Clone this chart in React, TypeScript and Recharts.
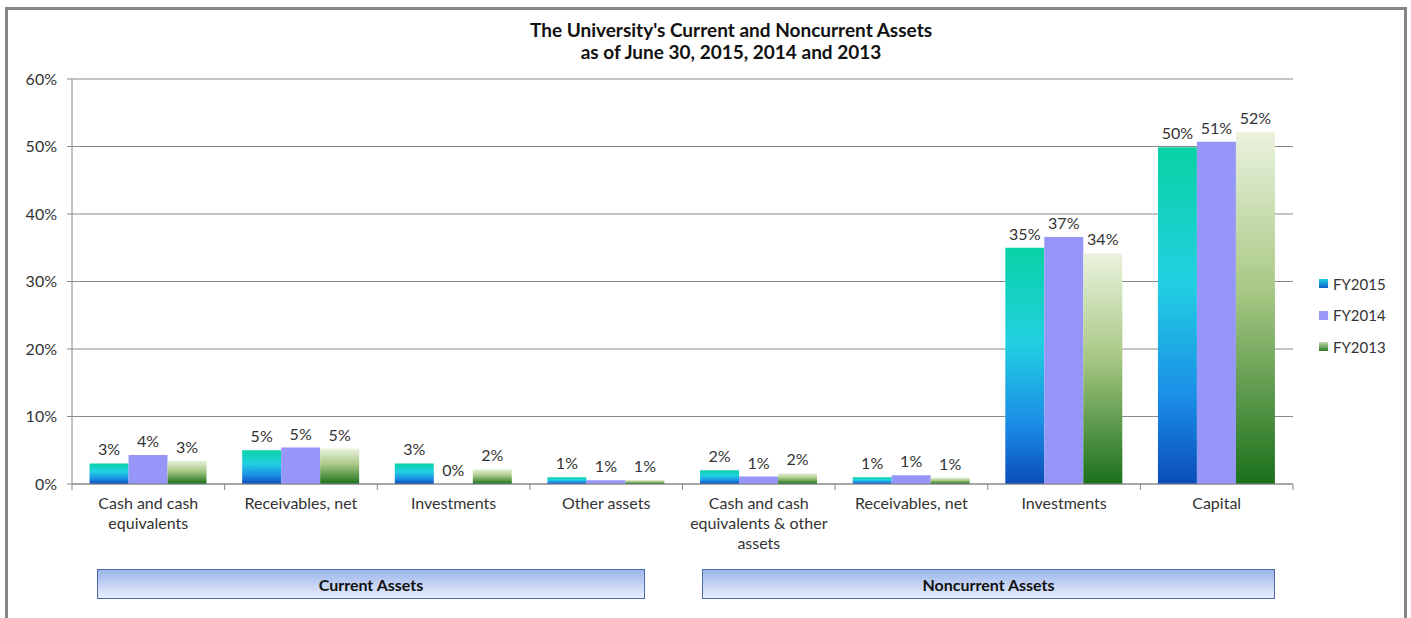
import React from 'react';
import { BarChart, Bar, XAxis, YAxis, CartesianGrid, LabelList } from 'recharts';

const CATEGORIES = [
    'Cash and cash\nequivalents',
    'Receivables, net',
    'Investments',
    'Other assets',
    'Cash and cash\nequivalents & other\nassets',
    'Receivables, net',
    'Investments',
    'Capital',
];
const FY2015 = [3.05, 5.0, 3.05, 1.0, 2.05, 1.0, 35.0, 49.9];
const FY2014 = [4.3, 5.4, 0.01, 0.55, 1.1, 1.3, 36.6, 50.7];
const FY2013 = [3.45, 5.25, 2.2, 0.6, 1.6, 0.95, 34.2, 52.1];
const Y_TICKS = [0, 10, 20, 30, 40, 50, 60];
const GROUPS = ['Current Assets', 'Noncurrent Assets'];

const FONT = 'Lato, "Open Sans", sans-serif';
const PLOT_LEFT = 72;
const PLOT_RIGHT = 1293;
const PLOT_TOP = 79;
const PLOT_BOTTOM = 484;
const BAND = (PLOT_RIGHT - PLOT_LEFT) / CATEGORIES.length;

const data = CATEGORIES.map((name, i) => ({
    name,
    fy2015: FY2015[i],
    fy2014: FY2014[i],
    fy2013: FY2013[i],
}));

const legendItems = [
    { label: 'FY2015', bg: 'linear-gradient(#20d0e0, #0a60c8)' },
    { label: 'FY2014', bg: '#9999f8' },
    { label: 'FY2013', bg: 'linear-gradient(#c8dcb0, #2a7a20)' },
];

// category text on several lines + tick marks between categories
const CategoryTick = (props: any) => {
    const { x, y, payload, index } = props;
    const lines = String(payload.value).split('\n');
    return (
        <g>
            <line x1={x - BAND / 2} x2={x - BAND / 2} y1={y} y2={y + 6} stroke="#888" />
            {index === CATEGORIES.length - 1 && (
                <line x1={x + BAND / 2} x2={x + BAND / 2} y1={y} y2={y + 6} stroke="#888" />
            )}
            <text x={x} y={y + 25} textAnchor="middle" fill="#333" fontSize={16} fontFamily={FONT}>
                {lines.map((l, i) => (
                    <tspan key={i} x={x} dy={i === 0 ? 0 : 20}>{l}</tspan>
                ))}
            </text>
        </g>
    );
};

const pct = (v: any) => `${Math.round(Number(v))}%`;

export default function App() {
    return (
        <div style={{ position: 'absolute', left: 0, top: 0, width: 1411, height: 618, background: '#fff', overflow: 'hidden' }}>
            {/* outer frame, runs off the bottom */}
            <div style={{ position: 'absolute', left: 5, top: 7, width: 1396, height: 700, border: '3px solid #858585' }} />

            <div style={{ position: 'absolute', left: 331, width: 800, top: 19, textAlign: 'center', fontFamily: FONT, fontWeight: 'bold', fontSize: 19, lineHeight: '22px', color: '#111' }}>
                The University's Current and Noncurrent Assets<br />as of June 30, 2015, 2014 and 2013
            </div>

            <div style={{ position: 'absolute', left: 0, top: 0 }}>
                <BarChart
                    width={1411}
                    height={618}
                    data={data}
                    margin={{ top: PLOT_TOP, right: 1411 - PLOT_RIGHT, bottom: 618 - PLOT_BOTTOM - 30, left: PLOT_LEFT - 60 }}
                    barCategoryGap="11.5%"
                    barGap={0}
                >
                    <defs>
                        <linearGradient id="g2015" x1="0" y1="0" x2="0" y2="1">
                            <stop offset="0" stopColor="#08d2a4" />
                            <stop offset="0.4" stopColor="#22d0e2" />
                            <stop offset="0.75" stopColor="#1a8ce6" />
                            <stop offset="1" stopColor="#0a4cb8" />
                        </linearGradient>
                        <linearGradient id="g2013" x1="0" y1="0" x2="0" y2="1">
                            <stop offset="0" stopColor="#eaf2de" />
                            <stop offset="0.45" stopColor="#a8c884" />
                            <stop offset="1" stopColor="#1a701a" />
                        </linearGradient>
                    </defs>
                    <CartesianGrid vertical={false} stroke="#8a8a8a" />
                    <XAxis
                        dataKey="name"
                        height={30}
                        stroke="#888"
                        tickLine={false}
                        tickSize={0}
                        tickMargin={0}
                        interval={0}
                        tick={<CategoryTick />}
                    />
                    <YAxis
                        width={60}
                        domain={[0, 60]}
                        ticks={Y_TICKS}
                        tickFormatter={(v) => `${v}%`}
                        stroke="#888"
                        tickSize={5}
                        tickMargin={10}
                        tick={{ fill: '#333', fontSize: 16, fontFamily: FONT }}
                    />
                    <Bar dataKey="fy2015" name="FY2015" fill="url(#g2015)" isAnimationActive={false}>
                        <LabelList dataKey="fy2015" position="top" offset={8} formatter={pct} fill="#333" fontSize={16} fontFamily={FONT} />
                    </Bar>
                    <Bar dataKey="fy2014" name="FY2014" fill="#9696f8" isAnimationActive={false}>
                        <LabelList dataKey="fy2014" position="top" offset={8} formatter={pct} fill="#333" fontSize={16} fontFamily={FONT} />
                    </Bar>
                    <Bar dataKey="fy2013" name="FY2013" fill="url(#g2013)" isAnimationActive={false}>
                        <LabelList dataKey="fy2013" position="top" offset={8} formatter={pct} fill="#333" fontSize={16} fontFamily={FONT} />
                    </Bar>
                </BarChart>
            </div>

            {/* legend */}
            <div style={{ position: 'absolute', left: 1319, top: 268, fontFamily: FONT, fontSize: 15, color: '#333' }}>
                {legendItems.map((it) => (
                    <div key={it.label} style={{ display: 'flex', alignItems: 'center', height: 31.5 }}>
                        <div style={{ width: 9, height: 9, background: it.bg, marginRight: 5 }} />
                        {it.label}
                    </div>
                ))}
            </div>

            {/* group boxes under the categories */}
            {GROUPS.map((g, i) => (
                <div
                    key={g}
                    style={{
                        position: 'absolute',
                        left: i === 0 ? 97 : 702,
                        width: i === 0 ? 548 : 573,
                        top: 569,
                        height: 30,
                        boxSizing: 'border-box',
                        border: '1px solid #4d6aa6',
                        background: 'linear-gradient(#9db5ec, #e8eefa)',
                        display: 'flex',
                        alignItems: 'center',
                        justifyContent: 'center',
                        fontFamily: FONT,
                        fontWeight: 'bold',
                        fontSize: 16,
                        color: '#111',
                    }}
                >
                    {g}
                </div>
            ))}
        </div>
    );
}
